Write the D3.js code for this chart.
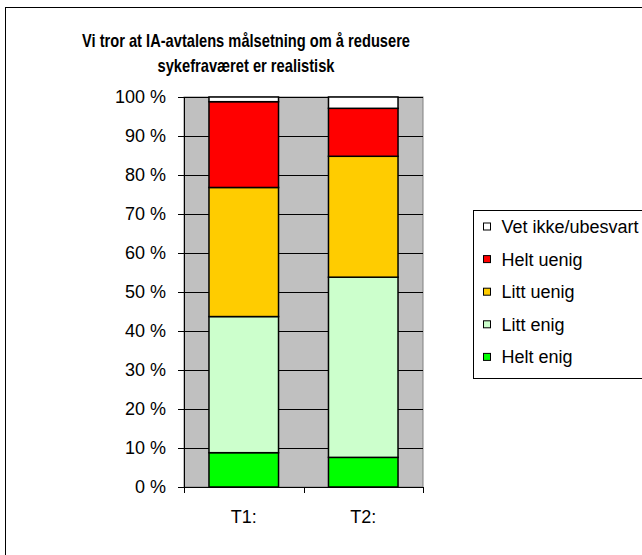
<!DOCTYPE html>
<html>
<head>
<meta charset="utf-8">
<script src="https://cdn.jsdelivr.net/npm/d3@7"></script>
<style>
  body { margin: 0; background: #fff; }
  text { font-family: "Liberation Sans", Arial, sans-serif; fill: #000; }
</style>
</head>
<body>
<div id="chart"></div>
<script>
// data (percent of answers)
const periods = ["T1:", "T2:"];
const answers = ["Helt enig", "Litt enig", "Litt uenig", "Helt uenig", "Vet ikke/ubesvart"];
const heltEnig = [8.8, 7.6];
const littEnig = [34.9, 46.2];
const littUenig = [33.1, 31.0];
const heltUenig = [22.0, 12.3];
const vetIkke = [1.2, 2.9];
const answerColors = ["#00ff00", "#ccffcc", "#ffcc00", "#ff0000", "#ffffff"];
const yTicks = [0, 10, 20, 30, 40, 50, 60, 70, 80, 90, 100];

const svgWidth = 642;
const svgHeight = 555;

const margin = { top: 97, left: 184 };
const width = 239;
const height = 390;

const svg = d3.select("#chart")
  .append("svg")
  .attr("width", svgWidth)
  .attr("height", svgHeight);

// outer chart frame (runs off the right and bottom edges)
svg.append("rect")
  .attr("x", 5.5)
  .attr("y", 7.5)
  .attr("width", 700)
  .attr("height", 600)
  .attr("fill", "#fff")
  .attr("stroke", "#000")
  .attr("stroke-width", 1);

// title (tight spacing like the original)
const titleLines = [
  { text: "Vi tror at IA-avtalens målsetning om å redusere", y: 47, len: 328 },
  { text: "sykefraværet er realistisk", y: 72, len: 177 }
];
svg.append("g")
  .selectAll("text")
  .data(titleLines)
  .enter()
  .append("text")
  .attr("x", 246)
  .attr("y", d => d.y)
  .attr("text-anchor", "middle")
  .attr("textLength", d => d.len)
  .attr("lengthAdjust", "spacingAndGlyphs")
  .style("font-weight", "bold")
  .style("font-size", "18.5px")
  .text(d => d.text);

// build table for stacking
const table = periods.map((p, i) => ({
  period: p,
  "Helt enig": heltEnig[i],
  "Litt enig": littEnig[i],
  "Litt uenig": littUenig[i],
  "Helt uenig": heltUenig[i],
  "Vet ikke/ubesvart": vetIkke[i]
}));
const stacked = d3.stack().keys(answers)(table);

const xScale = d3.scaleBand()
  .domain(periods)
  .range([0, width])
  .paddingInner(0.418)
  .paddingOuter(0.209);

const yScale = d3.scaleLinear()
  .domain([0, 100])
  .range([height, 0]);

const color = d3.scaleOrdinal().domain(answers).range(answerColors);

const chartGroup = svg.append("g")
  .attr("transform", `translate(${margin.left}, ${margin.top})`);

// plot area
chartGroup.append("rect")
  .attr("width", width)
  .attr("height", height)
  .attr("fill", "#c0c0c0")
  .attr("stroke", "#808080")
  .attr("stroke-width", 1);

// gridlines
chartGroup.append("g")
  .selectAll("line")
  .data(yTicks.filter(d => d > 0))
  .enter()
  .append("line")
  .attr("x1", 0)
  .attr("x2", width)
  .attr("y1", d => Math.round(yScale(d)) + 0.5)
  .attr("y2", d => Math.round(yScale(d)) + 0.5)
  .attr("stroke", "#000")
  .attr("stroke-width", 1);

// bars
chartGroup.append("g")
  .selectAll("g")
  .data(stacked)
  .enter()
  .append("g")
  .attr("fill", d => color(d.key))
  .selectAll("rect")
  .data(d => d)
  .enter()
  .append("rect")
  .attr("x", d => xScale(d.data.period))
  .attr("y", d => yScale(d[1]))
  .attr("width", xScale.bandwidth())
  .attr("height", d => yScale(d[0]) - yScale(d[1]))
  .attr("stroke", "#000")
  .attr("stroke-width", 1.5);

// y axis
const leftAxis = d3.axisLeft(yScale)
  .tickValues(yTicks)
  .tickSize(6)
  .tickPadding(12)
  .tickFormat(d => d + " %");
const yAxis = chartGroup.append("g").call(leftAxis);
yAxis.select(".domain").attr("stroke", "#000");
yAxis.selectAll("text").style("font-size", "18px");

// x axis with ticks at category boundaries
const xAxis = chartGroup.append("g")
  .attr("transform", `translate(0, ${height})`);
xAxis.append("line")
  .attr("x1", 0).attr("x2", width)
  .attr("y1", 0.5).attr("y2", 0.5)
  .attr("stroke", "#000");
const boundaries = [0].concat(periods.map(p => xScale(p) + xScale.bandwidth() + xScale.step() * xScale.paddingInner() / 2));
xAxis.selectAll("line.tick")
  .data(boundaries)
  .enter()
  .append("line")
  .attr("class", "tick")
  .attr("x1", d => Math.round(d) + 0.5)
  .attr("x2", d => Math.round(d) + 0.5)
  .attr("y1", 0)
  .attr("y2", 6)
  .attr("stroke", "#000");
xAxis.selectAll("text")
  .data(periods)
  .enter()
  .append("text")
  .attr("x", d => xScale(d) + xScale.bandwidth() / 2)
  .attr("y", 36)
  .attr("text-anchor", "middle")
  .style("font-size", "18px")
  .text(d => d);

// legend
const legend = svg.append("g")
  .attr("transform", "translate(473.5, 210.5)");
legend.append("rect")
  .attr("width", 200)
  .attr("height", 168)
  .attr("fill", "#fff")
  .attr("stroke", "#000")
  .attr("stroke-width", 1);

const legendItems = legend.selectAll("g.item")
  .data(answers.slice().reverse())
  .enter()
  .append("g")
  .attr("class", "item")
  .attr("transform", (d, i) => `translate(10, ${16 + i * 32.6})`);
legendItems.append("rect")
  .attr("x", 0)
  .attr("y", -3.5)
  .attr("width", 7)
  .attr("height", 7)
  .attr("fill", d => color(d))
  .attr("stroke", "#000")
  .attr("stroke-width", 1);
legendItems.append("text")
  .attr("x", 18)
  .attr("y", 6.5)
  .style("font-size", "18px")
  .text(d => d);
</script>
</body>
</html>
